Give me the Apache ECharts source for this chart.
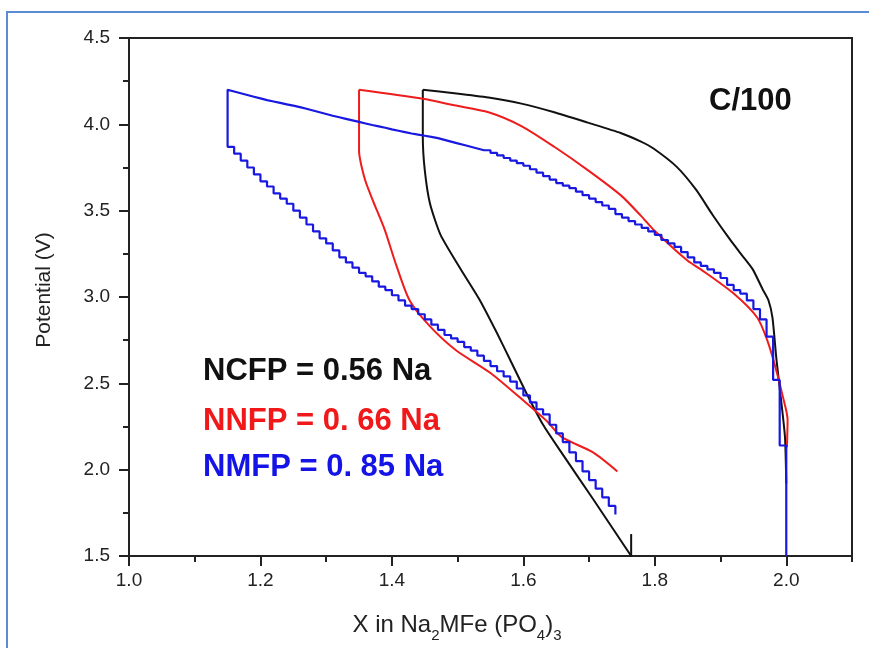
<!DOCTYPE html>
<html>
<head>
<meta charset="utf-8">
<script src="https://cdn.jsdelivr.net/npm/echarts@6/dist/echarts.min.js"></script>
<style>html,body{margin:0;padding:0;background:#fff}#c{width:869px;height:648px}</style>
</head>
<body>
<div id="c"></div>
<script>
// ---- data ----
const xMajorTicks = [1.0, 1.2, 1.4, 1.6, 1.8, 2.0];
const yMajorTicks = [1.5, 2.0, 2.5, 3.0, 3.5, 4.0, 4.5];

const ncfpCharge = [[2.0,1.92],[1.998,2.19],[1.991,2.44],[1.985,2.64],[1.979,2.88],[1.973,2.98],[1.964,3.045],[1.949,3.16],[1.933,3.24],[1.914,3.335],[1.888,3.475],[1.863,3.62],[1.833,3.755],[1.798,3.86],[1.779,3.90],[1.748,3.95],[1.698,4.01],[1.647,4.07],[1.597,4.12],[1.547,4.155],[1.495,4.18],[1.447,4.2]];
const ncfpDischarge = [[1.447,4.2],[1.447,3.93],[1.450,3.735],[1.458,3.54],[1.474,3.36],[1.504,3.165],[1.534,2.98],[1.560,2.79],[1.580,2.635],[1.605,2.44],[1.630,2.26],[1.656,2.11],[1.706,1.83],[1.764,1.5]];
const ncfpRest = [[1.764,1.5],[1.764,1.627]];

const nnfpCharge = [[2.001,2.13],[2.002,2.29],[1.995,2.42],[1.983,2.6],[1.971,2.75],[1.956,2.88],[1.92,3.02],[1.87,3.16],[1.85,3.21],[1.798,3.39],[1.779,3.47],[1.748,3.59],[1.698,3.735],[1.647,3.87],[1.597,3.99],[1.547,4.07],[1.495,4.11],[1.447,4.148],[1.35,4.2]];
const nnfpDischarge = [[1.35,4.2],[1.35,3.85],[1.359,3.68],[1.372,3.55],[1.389,3.39],[1.407,3.18],[1.427,2.98],[1.458,2.83],[1.498,2.69],[1.55,2.56],[1.60,2.40],[1.636,2.28],[1.658,2.19],[1.706,2.1],[1.743,1.99]];

const nmfpCharge = [[2.00,1.50],[2.00,2.14],[1.99,2.52],[1.98,2.77],[1.97,2.87],[1.96,2.93],[1.95,2.98],[1.94,3.02],[1.93,3.04],[1.92,3.07],[1.91,3.11],[1.90,3.14],[1.89,3.16],[1.88,3.18],[1.87,3.20],[1.86,3.23],[1.85,3.26],[1.84,3.29],[1.83,3.31],[1.82,3.33],[1.81,3.36],[1.80,3.38],[1.79,3.40],[1.78,3.42],[1.77,3.44],[1.76,3.46],[1.75,3.48],[1.74,3.51],[1.73,3.53],[1.72,3.55],[1.71,3.57],[1.70,3.59],[1.69,3.61],[1.68,3.63],[1.67,3.645],[1.66,3.66],[1.65,3.68],[1.64,3.70],[1.63,3.72],[1.62,3.74],[1.61,3.76],[1.60,3.775],[1.59,3.79],[1.58,3.805],[1.57,3.82],[1.56,3.835],[1.55,3.85],[1.54,3.86],[1.53,3.87],[1.52,3.88],[1.51,3.89],[1.50,3.90],[1.49,3.91],[1.48,3.92],[1.47,3.927],[1.46,3.934],[1.45,3.94],[1.44,3.947],[1.43,3.955],[1.42,3.963],[1.41,3.971],[1.40,3.98],[1.39,3.988],[1.38,3.996],[1.37,4.005],[1.36,4.014],[1.35,4.023],[1.34,4.032],[1.33,4.041],[1.32,4.05],[1.31,4.06],[1.30,4.07],[1.29,4.08],[1.28,4.09],[1.27,4.10],[1.26,4.108],[1.25,4.116],[1.24,4.124],[1.23,4.132],[1.22,4.14],[1.21,4.15],[1.20,4.16],[1.19,4.17],[1.18,4.18],[1.17,4.19],[1.16,4.20],[1.15,4.20]];
const nmfpDischarge = [[1.15,3.87],[1.16,3.83],[1.17,3.79],[1.18,3.75],[1.19,3.71],[1.20,3.67],[1.21,3.64],[1.22,3.60],[1.23,3.57],[1.24,3.54],[1.25,3.50],[1.26,3.46],[1.27,3.42],[1.28,3.38],[1.29,3.34],[1.30,3.31],[1.31,3.27],[1.32,3.23],[1.33,3.20],[1.34,3.17],[1.35,3.14],[1.36,3.12],[1.37,3.09],[1.38,3.06],[1.39,3.04],[1.40,3.01],[1.41,2.98],[1.42,2.95],[1.43,2.93],[1.44,2.90],[1.45,2.87],[1.46,2.84],[1.47,2.81],[1.48,2.78],[1.49,2.76],[1.50,2.74],[1.51,2.71],[1.52,2.69],[1.53,2.66],[1.54,2.63],[1.55,2.60],[1.56,2.57],[1.57,2.54],[1.58,2.51],[1.59,2.47],[1.60,2.43],[1.61,2.39],[1.62,2.35],[1.63,2.32],[1.64,2.26],[1.65,2.21],[1.66,2.16],[1.67,2.10],[1.68,2.05],[1.69,1.99],[1.70,1.94],[1.71,1.89],[1.72,1.84],[1.73,1.79],[1.74,1.74]];

const labels = ['NCFP = 0.56 Na', 'NNFP = 0. 66 Na', 'NMFP = 0. 85 Na'];
const rateLabel = 'C/100';

// ---- styling ----
const FONT = '"Liberation Sans", Arial, sans-serif';
const AX = '#222';
const BLACK = '#111111', RED = '#ee1c1c', BLUE = '#1818e0';

const chart = echarts.init(document.getElementById('c'), null, {renderer: 'canvas'});
const axisCommon = {
  axisLine: {show: true, onZero: false, lineStyle: {color: AX, width: 2}},
  splitLine: {show: false}
};
chart.setOption({
  animation: false,
  backgroundColor: '#fff',
  grid: {left: 129, top: 38, width: 723, height: 518, show: true, borderColor: AX, borderWidth: 2, backgroundColor: 'transparent'},
  xAxis: [
    Object.assign({
      type: 'value', min: 1.0, max: 2.1, position: 'bottom',
      axisTick: {show: true, customValues: xMajorTicks, length: 10, lineStyle: {color: AX, width: 2}},
      axisLabel: {customValues: xMajorTicks, formatter: v => v.toFixed(1), fontSize: 19, color: AX, fontFamily: FONT, margin: 15}
    }, axisCommon),
    {
      type: 'value', min: 1.0, max: 2.1, interval: 0.1, position: 'bottom',
      axisLine: {show: false, onZero: false},
      axisTick: {show: true, length: 6, lineStyle: {color: AX, width: 2}},
      axisLabel: {show: false}, splitLine: {show: false}
    }
  ],
  yAxis: Object.assign({
    type: 'value', min: 1.5, max: 4.5, interval: 0.5,
    axisTick: {show: true, length: 10, lineStyle: {color: AX, width: 2}},
    minorTick: {show: true, splitNumber: 2, length: 6, lineStyle: {color: AX, width: 2}},
    axisLabel: {formatter: v => v.toFixed(1), fontSize: 19, color: AX, fontFamily: FONT, margin: 19}
  }, axisCommon),
  series: [
    {type: 'line', data: ncfpCharge, showSymbol: false, smooth: 0.2, lineStyle: {color: BLACK, width: 2}, z: 3},
    {type: 'line', data: ncfpDischarge, showSymbol: false, smooth: 0.2, lineStyle: {color: BLACK, width: 2}, z: 3},
    {type: 'line', data: ncfpRest, showSymbol: false, lineStyle: {color: BLACK, width: 2}, z: 3},
    {type: 'line', data: nnfpCharge, showSymbol: false, smooth: 0.25, lineStyle: {color: RED, width: 2}, z: 4},
    {type: 'line', data: nnfpDischarge, showSymbol: false, smooth: 0.25, lineStyle: {color: RED, width: 2}, z: 4},
    {type: 'line', data: nmfpCharge.concat(nmfpDischarge), showSymbol: false, step: 'end', lineStyle: {color: BLUE, width: 2.2}, z: 5}
  ],
  graphic: [
    {type: 'rect', silent: true, shape: {x: 7, y: 12, width: 900, height: 700}, style: {fill: 'none', stroke: '#5b8bd2', lineWidth: 2}, z: 100},
    {type: 'text', left: 709, top: 86, style: {text: rateLabel, font: 'bold 31px ' + FONT, fill: '#111'}},
    {type: 'text', left: 203, top: 356, style: {text: labels[0], font: 'bold 31px ' + FONT, fill: '#111'}},
    {type: 'text', left: 203, top: 406, style: {text: labels[1], font: 'bold 31px ' + FONT, fill: '#f01818'}},
    {type: 'text', left: 203, top: 452, style: {text: labels[2], font: 'bold 31px ' + FONT, fill: '#1414e6'}},
    {type: 'text', x: 44, y: 290, rotation: Math.PI / 2, style: {text: 'Potential (V)', font: '21px ' + FONT, fill: AX, align: 'center', verticalAlign: 'middle'}},
    {type: 'text', x: 457, y: 622, style: {
      text: '{n|X in Na}{s|2}{n|MFe (PO}{s|4}{n|)}{s|3}',
      align: 'center', verticalAlign: 'middle', fill: AX,
      rich: {
        n: {fontSize: 24, fontFamily: FONT, fill: AX, verticalAlign: 'bottom', lineHeight: 30},
        s: {fontSize: 15, fontFamily: FONT, fill: AX, verticalAlign: 'bottom', lineHeight: 22, padding: [0, 0, -6, 0]}
      }
    }}
  ]
});
</script>
</body>
</html>
